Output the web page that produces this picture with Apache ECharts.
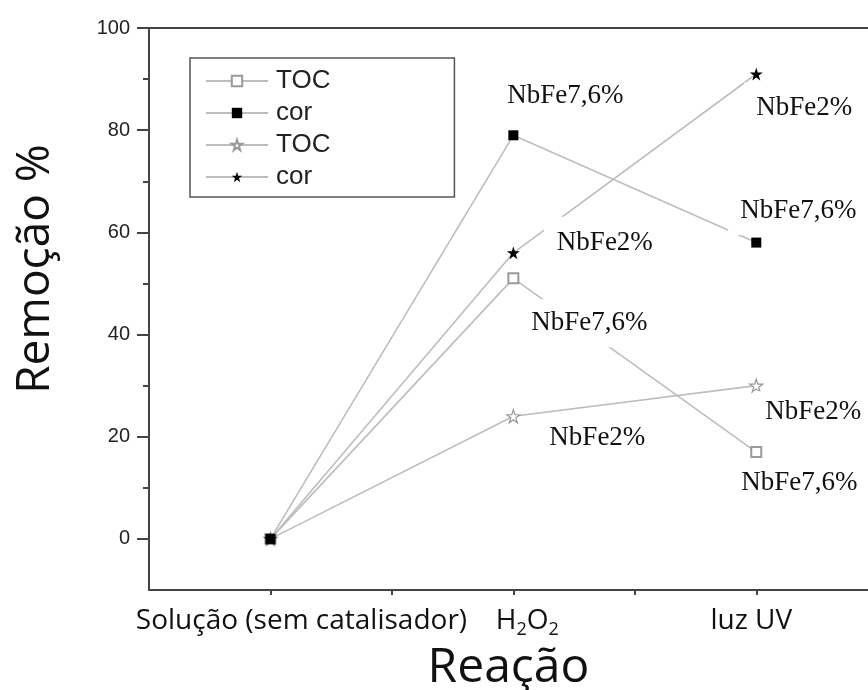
<!DOCTYPE html>
<html>
<head>
<meta charset="utf-8">
<script src="https://cdn.jsdelivr.net/npm/echarts@6/dist/echarts.min.js"></script>
<style>
  html, body { margin: 0; padding: 0; background: #fff; }
  #chart { width: 868px; height: 690px; }
</style>
</head>
<body>
<div id="chart"></div>
<script>
// Reaction steps along the horizontal axis
const categories = ['Solução (sem catalisador)', 'H2O2', 'luz UV'];

// Removal (%) per catalyst and measurement
const tocNbFe76 = [0, 51, 17];
const corNbFe76 = [0, 79, 58];
const tocNbFe2 = [0, 24, 30];
const corNbFe2 = [0, 56, 91];

// Axis ticks and labels
const yLabelValues = [0, 20, 40, 60, 80, 100];
const yMinorValues = [10, 30, 50, 70, 90];
const xTickValues = [0, 0.5, 1, 1.5, 2];
const xLabelValues = [0, 1, 2];

const STAR = 'path://M50,0 L61.2,34.5 L97.6,34.5 L68.2,55.9 L79.4,90.5 L50,69.1 L20.6,90.5 L31.8,55.9 L2.4,34.5 L38.8,34.5 Z';
const LINE_GREY = '#bdbdbd';

const labelBase = {
  show: true,
  position: 'inside',
  fontFamily: 'Liberation Serif, Times New Roman, serif',
  fontSize: 27,
  lineHeight: 27,
  color: '#111',
  backgroundColor: '#fff',
  formatter: p => p.seriesName.split(' ')[1]
};

// Build the data items; annotated points get a text tag placed beside them
function points(values, tags) {
  return values.map((v, i) => {
    const item = { value: [i, v] };
    if (tags[i]) {
      item.label = Object.assign({}, labelBase, tags[i]);
    }
    return item;
  });
}

const chart = echarts.init(document.getElementById('chart'), null, { renderer: 'canvas' });

const option = {
  backgroundColor: '#fff',
  animation: false,
  grid: { left: 149, top: 28, right: 0, bottom: 100, containLabel: false, outerBoundsMode: 'none' },
  legend: {
    orient: 'vertical',
    left: 190,
    top: 58,
    padding: [8, 124, 5, 15],
    itemWidth: 62,
    itemHeight: 13,
    itemGap: 2,
    borderColor: '#555',
    borderWidth: 1.5,
    borderRadius: 0,
    selectedMode: false,
    textStyle: {
      fontFamily: 'Liberation Sans, Arial, sans-serif',
      fontSize: 26,
      lineHeight: 30,
      color: '#222',
      padding: [0, 0, 0, 3]
    },
    formatter: name => name.split(' ')[0],
    data: ['TOC NbFe7,6%', 'cor NbFe7,6%', 'TOC NbFe2%', 'cor NbFe2%']
  },
  xAxis: [
    {
      type: 'value',
      min: -0.5,
      max: 2.46,
      interval: 0.5,
      name: 'Reação',
      nameLocation: 'middle',
      nameGap: 42,
      nameTextStyle: {
        fontFamily: 'Open Sans, sans-serif',
        fontSize: 48,
        lineHeight: 48,
        color: '#111'
      },
      splitLine: { show: false },
      axisLine: { show: true, onZero: false, lineStyle: { color: '#444', width: 2 } },
      axisTick: { show: true, customValues: xTickValues, length: 5, lineStyle: { color: '#444', width: 2 } },
      axisLabel: {
        customValues: xLabelValues,
        margin: 14,
        formatter: v => {
          const name = categories[Math.round(v)];
          if (name === 'H2O2') return '{h1|H}{s|2}{n|O}{s|2}';
          if (Math.round(v) === 0) return '{a|' + name + '}';
          return '{c|' + name + '}';
        },
        rich: {
          a: { fontFamily: 'Open Sans, sans-serif', fontSize: 28, lineHeight: 34, color: '#111', padding: [0, 0, 0, 62] },
          c: { fontFamily: 'Open Sans, sans-serif', fontSize: 28, lineHeight: 34, color: '#111', padding: [0, 10, 0, 0] },
          h1: { fontFamily: 'Open Sans, sans-serif', fontSize: 28, lineHeight: 34, color: '#111', padding: [0, 0, 0, 28] },
          n: { fontFamily: 'Open Sans, sans-serif', fontSize: 28, lineHeight: 34, color: '#111' },
          s: { fontFamily: 'Open Sans, sans-serif', fontSize: 18, lineHeight: 18, color: '#111', padding: [18, 0, 0, 0] }
        }
      }
    },
    {
      // top frame line
      type: 'value',
      position: 'top',
      min: -0.5,
      max: 2.46,
      interval: 0.5,
      axisLine: { show: true, onZero: false, lineStyle: { color: '#444', width: 2 } },
      axisTick: { show: false },
      axisLabel: { show: false },
      splitLine: { show: false }
    }
  ],
  yAxis: [
    {
      type: 'value',
      min: -10,
      max: 100,
      interval: 10,
      name: 'Remoção %',
      nameLocation: 'middle',
      nameRotate: 90,
      nameGap: 90,
      nameTextStyle: {
        fontFamily: 'Open Sans, sans-serif',
        fontSize: 46,
        lineHeight: 46,
        color: '#111',
        padding: [0, 0, 0, 80]
      },
      splitLine: { show: false },
      axisLine: { show: true, onZero: false, lineStyle: { color: '#444', width: 2 } },
      axisTick: { show: true, customValues: yLabelValues, length: 12, lineStyle: { color: '#444', width: 2 } },
      axisLabel: {
        customValues: yLabelValues,
        margin: 19,
        fontFamily: 'Liberation Sans, Arial, sans-serif',
        fontSize: 20,
        color: '#222'
      }
    },
    {
      // minor ticks between labelled values
      type: 'value',
      position: 'left',
      min: -10,
      max: 100,
      interval: 10,
      axisLine: { show: false, onZero: false },
      axisTick: { show: true, customValues: yMinorValues, length: 6, lineStyle: { color: '#444', width: 2 } },
      axisLabel: { show: false },
      splitLine: { show: false }
    }
  ],
  // cor NbFe7,6% is listed last so its filled square sits on top at the shared origin
  series: [
    {
      name: 'TOC NbFe7,6%',
      type: 'line',
      symbol: 'emptyRect',
      symbolSize: 10,
      lineStyle: { color: LINE_GREY, width: 1.6 },
      itemStyle: { color: '#999', borderWidth: 1.5 },
      data: points(tocNbFe76, [null, { offset: [76, 45], padding: [12, 12, 9, 12] }, { offset: [43, 31], padding: [4, 12, 12, 12] }])
    },
    {
      name: 'TOC NbFe2%',
      type: 'line',
      symbol: STAR,
      symbolSize: 13,
      lineStyle: { color: LINE_GREY, width: 1.6 },
      itemStyle: { color: '#fff', borderColor: '#999', borderWidth: 1.2 },
      data: points(tocNbFe2, [null, { offset: [84, 22], padding: [4, 12, 12, 12] }, { offset: [57, 26], padding: [2, 12, 12, 12] }])
    },
    {
      name: 'cor NbFe2%',
      type: 'line',
      symbol: STAR,
      symbolSize: 13,
      lineStyle: { color: LINE_GREY, width: 1.6 },
      itemStyle: { color: '#000' },
      data: points(corNbFe2, [null, { offset: [91, -10], padding: [13, 12, 12, 13] }, { offset: [48, 34], padding: [12, 12, 12, 12] }])
    },
    {
      name: 'cor NbFe7,6%',
      type: 'line',
      symbol: 'rect',
      symbolSize: 10,
      lineStyle: { color: LINE_GREY, width: 1.6 },
      itemStyle: { color: '#000' },
      data: points(corNbFe76, [null, { offset: [52, -39], padding: [6, 12, 6, 12] }, { offset: [42, -32], padding: [12, 12, 10, 12] }])
    }
  ]
};

chart.setOption(option);
</script>
</body>
</html>
